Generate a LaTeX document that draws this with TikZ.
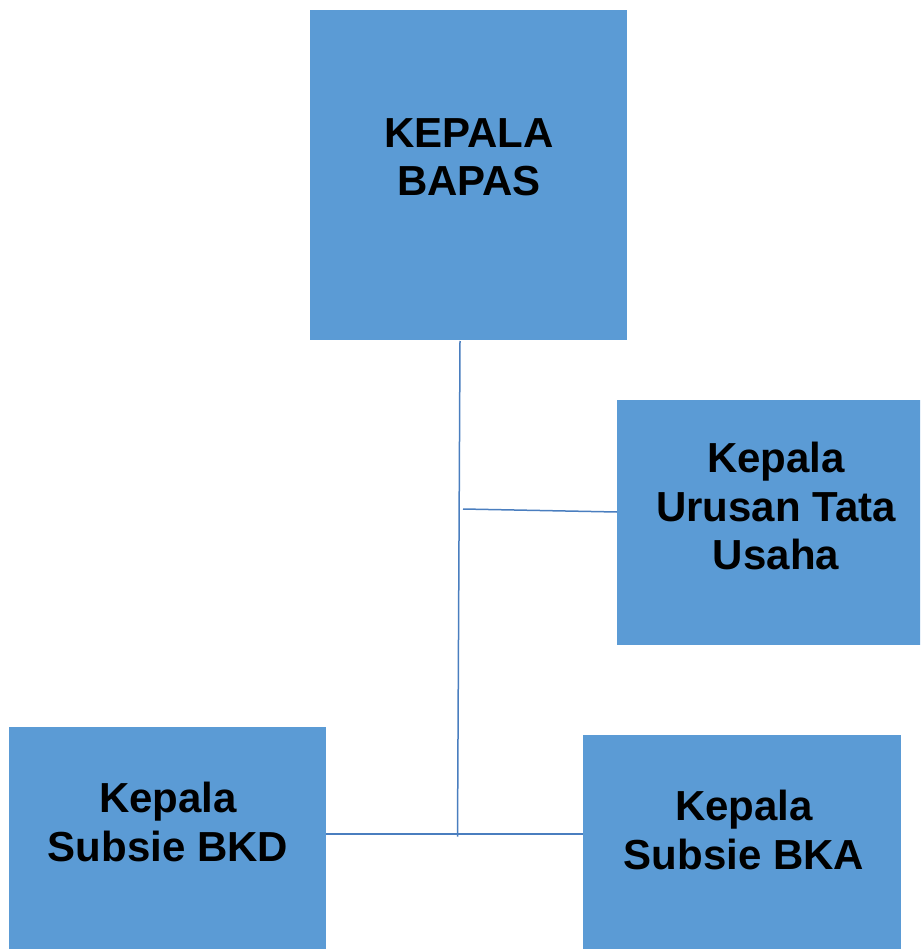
\documentclass[tikz,border=0pt]{standalone}
\usepackage{fontspec}
\setmainfont{Liberation Sans}
\definecolor{boxblue}{HTML}{5B9BD5}
\definecolor{lineblue}{HTML}{4A7EBF}
\begin{document}
\begin{tikzpicture}[x=1pt,y=-1pt,
  orgbox/.style={fill=boxblue,draw=none,inner sep=0pt,outer sep=0pt},
  orgtext/.style={anchor=north,inner sep=0pt,align=center,
    font=\fontsize{42}{48.5}\selectfont\bfseries},
  link/.style={draw=lineblue,line width=1.5pt}]
\useasboundingbox (0,0) rectangle (920,949);
\clip (0,0) rectangle (920,949);
\node[orgbox,minimum width=317pt,minimum height=330pt] (top) at (468.5,175) {};
\node[orgbox,minimum width=318pt,minimum height=245pt] (tu) at (776,522.5) {};
\node[orgbox,minimum width=317pt,minimum height=226pt] (bkd) at (167.5,840) {};
\node[orgbox,minimum width=318pt,minimum height=226pt] (bka) at (742,848) {};
\node[orgtext] (ttop) at (469,118) {KEPALA\\BAPAS};
\node[orgtext] (ttu) at (776,442) {Kepala\\Urusan Tata\\Usaha};
\node[orgtext] (tbkd) at (168,782) {Kepala\\Subsie BKD};
\node[orgtext] (tbka) at (744,790) {Kepala\\Subsie BKA};
\coordinate (vtop) at (460,341);
\coordinate (vbot) at (457.5,836.5);
\coordinate (mid) at (463,509);
\draw[link] (vtop) -- (vbot);
\draw[link] (mid) -- (tu.west |- 0,512);
\draw[link] (bkd.east |- 0,834) -- (bka.west |- 0,834);
\end{tikzpicture}
\end{document}
